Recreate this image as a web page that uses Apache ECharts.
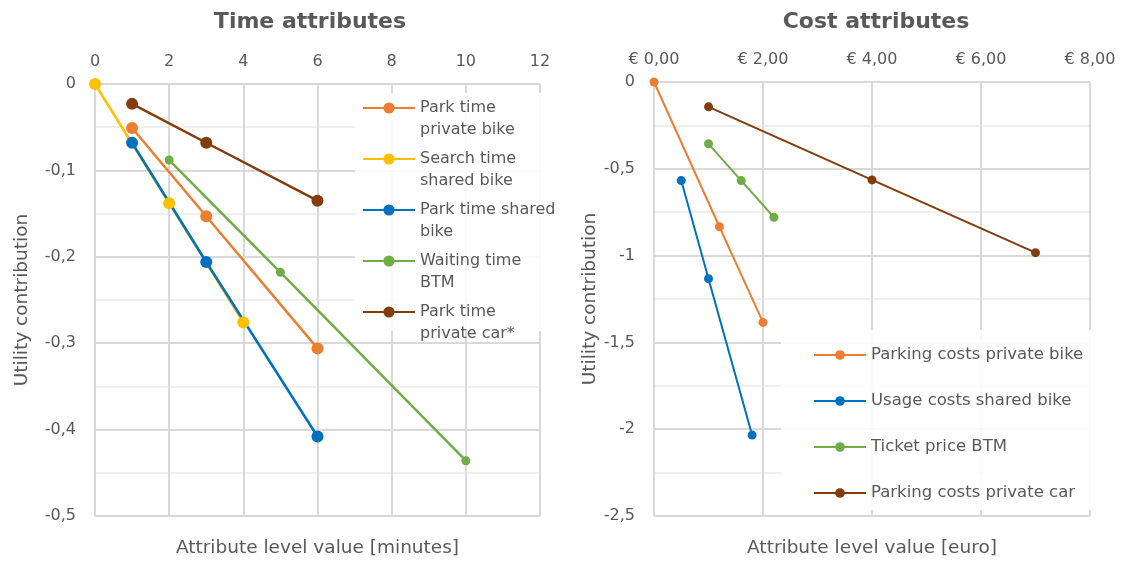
<!DOCTYPE html>
<html>
<head>
<meta charset="utf-8">
<script src="https://cdn.jsdelivr.net/npm/echarts@6/dist/echarts.min.js"></script>
<style>
  html, body { margin: 0; padding: 0; background: #fff; }
  #chart { width: 1121px; height: 563px; }
</style>
</head>
<body>
<div id="chart"></div>
<script>
// ---- Time attributes (minutes) ----
const parkPrivateBikeX = [1, 3, 6];
const parkPrivateBikeY = [-0.051, -0.153, -0.306];
const searchSharedBikeX = [0, 2, 4];
const searchSharedBikeY = [0, -0.138, -0.276];
const parkSharedBikeX = [1, 3, 6];
const parkSharedBikeY = [-0.068, -0.206, -0.408];
const waitingBtmX = [2, 5, 10];
const waitingBtmY = [-0.088, -0.218, -0.436];
const parkPrivateCarX = [1, 3, 6];
const parkPrivateCarY = [-0.023, -0.068, -0.135];

// ---- Cost attributes (euro) ----
const parkingPrivateBikeX = [0, 1.2, 2];
const parkingPrivateBikeY = [0, -0.834, -1.385];
const usageSharedBikeX = [0.5, 1, 1.8];
const usageSharedBikeY = [-0.568, -1.133, -2.034];
const ticketBtmX = [1, 1.6, 2.2];
const ticketBtmY = [-0.356, -0.568, -0.779];
const parkingPrivateCarX = [1, 4, 7];
const parkingPrivateCarY = [-0.143, -0.564, -0.983];

const timeNames = ['Park time\nprivate bike', 'Search time\nshared bike', 'Park time shared\nbike', 'Waiting time\nBTM', 'Park time\nprivate car*'];
const costNames = ['Parking costs private bike', 'Usage costs shared bike', 'Ticket price BTM', 'Parking costs private car'];

const ORANGE = '#ED7D31', YELLOW = '#FFC000', BLUE = '#0070C0', GREEN = '#70AD47', BROWN = '#843C0C';
const FONT = 'DejaVu Sans';
const TXT = '#595959';
const GRID_LINE = '#d9d9d9';
const MINOR_LINE = '#efefef';

const zip = (xs, ys) => xs.map((x, i) => [x, ys[i]]);
const comma = v => String(+v.toFixed(2)).replace('.', ',');

function lineSeries(name, xs, ys, color, xi, yi, size, width) {
  return {
    type: 'line', name, xAxisIndex: xi, yAxisIndex: yi,
    data: zip(xs, ys),
    symbol: 'circle', symbolSize: size,
    lineStyle: { color, width },
    itemStyle: { color },
    emphasis: { disabled: true },
    animation: false
  };
}

function valueY(gridIndex, min, interval, gap) {
  return {
    type: 'value', gridIndex, min, max: 0, interval,
    axisLine: { show: false }, axisTick: { show: false },
    axisLabel: { color: TXT, fontFamily: FONT, fontSize: 16, margin: 19, formatter: v => v === 0 ? '0' : comma(v) },
    splitLine: { lineStyle: { color: GRID_LINE, width: 2 } },
    minorTick: { show: false, splitNumber: 2 },
    minorSplitLine: { show: true, lineStyle: { color: MINOR_LINE, width: 2 } },
    name: 'Utility contribution', nameLocation: 'middle', nameGap: gap,
    nameTextStyle: { color: TXT, fontFamily: FONT, fontSize: 18.5 }
  };
}

function topX(gridIndex, max, interval, fmt) {
  return {
    type: 'value', gridIndex, position: 'top', min: 0, max, interval,
    axisLine: { show: false }, axisTick: { show: false },
    axisLabel: { color: TXT, fontFamily: FONT, fontSize: 16, margin: 14, formatter: fmt },
    splitLine: { lineStyle: { color: GRID_LINE, width: 2 } }
  };
}

function bottomName(gridIndex, max, name) {
  return {
    type: 'value', gridIndex, position: 'bottom', min: 0, max,
    axisLine: { show: false }, axisTick: { show: false },
    axisLabel: { show: false }, splitLine: { show: false },
    name, nameLocation: 'middle', nameGap: 23,
    nameTextStyle: { color: TXT, fontFamily: FONT, fontSize: 18.5 }
  };
}

const chart = echarts.init(document.getElementById('chart'), null, { renderer: 'canvas' });
chart.setOption({
  backgroundColor: '#fff',
  animation: false,
  title: [
    { text: 'Time attributes', left: 305, top: 6, textAlign: 'center',
      textStyle: { color: TXT, fontFamily: FONT, fontSize: 22, fontWeight: 'bold' } },
    { text: 'Cost attributes', left: 871, top: 6, textAlign: 'center',
      textStyle: { color: TXT, fontFamily: FONT, fontSize: 22, fontWeight: 'bold' } }
  ],
  grid: [
    { left: 95, top: 84, width: 445, height: 435 },
    { left: 654, top: 82, width: 436, height: 437 }
  ],
  xAxis: [
    topX(0, 12, 2, v => String(v)),
    bottomName(0, 12, 'Attribute level value [minutes]'),
    topX(1, 8, 2, v => '€ ' + v.toFixed(2).replace('.', ',')),
    bottomName(1, 8, 'Attribute level value [euro]')
  ],
  yAxis: [valueY(0, -0.5, 0.1, 63), valueY(1, -2.5, 0.5, 54)],
  graphic: [
    { type: 'rect', z: 1, silent: true, shape: { x: 355, y: 93, width: 206, height: 238 },
      style: { fill: 'rgba(255,255,255,0.85)' } },
    { type: 'rect', z: 1, silent: true, shape: { x: 781, y: 330, width: 312, height: 180 },
      style: { fill: 'rgba(255,255,255,0.85)' } }
  ],
  legend: [
    {
      // leading blank line keeps the marker level with the first text line
      data: timeNames, orient: 'vertical', left: 362, top: 75, padding: 0,
      itemWidth: 52, itemHeight: 14, itemGap: -15,
      formatter: n => '\n' + n,
      textStyle: { color: TXT, fontFamily: FONT, fontSize: 16, lineHeight: 22 },
      selectedMode: false
    },
    {
      data: costNames, orient: 'vertical', left: 813, top: 344, padding: 0,
      itemWidth: 52, itemHeight: 12, itemGap: 24,
      textStyle: { color: TXT, fontFamily: FONT, fontSize: 16.5, lineHeight: 22 },
      selectedMode: false
    }
  ],
  series: [
    lineSeries(timeNames[0], parkPrivateBikeX, parkPrivateBikeY, ORANGE, 0, 0, 12, 2.5),
    lineSeries(timeNames[1], searchSharedBikeX, searchSharedBikeY, YELLOW, 0, 0, 12, 2.5),
    lineSeries(timeNames[2], parkSharedBikeX, parkSharedBikeY, BLUE, 0, 0, 12, 2.5),
    lineSeries(timeNames[3], waitingBtmX, waitingBtmY, GREEN, 0, 0, 9, 2.5),
    lineSeries(timeNames[4], parkPrivateCarX, parkPrivateCarY, BROWN, 0, 0, 12, 2.5),
    lineSeries(costNames[0], parkingPrivateBikeX, parkingPrivateBikeY, ORANGE, 2, 1, 9, 2),
    lineSeries(costNames[1], usageSharedBikeX, usageSharedBikeY, BLUE, 2, 1, 9, 2),
    lineSeries(costNames[2], ticketBtmX, ticketBtmY, GREEN, 2, 1, 9, 2),
    lineSeries(costNames[3], parkingPrivateCarX, parkingPrivateCarY, BROWN, 2, 1, 9, 2)
  ]
});
</script>
</body>
</html>
